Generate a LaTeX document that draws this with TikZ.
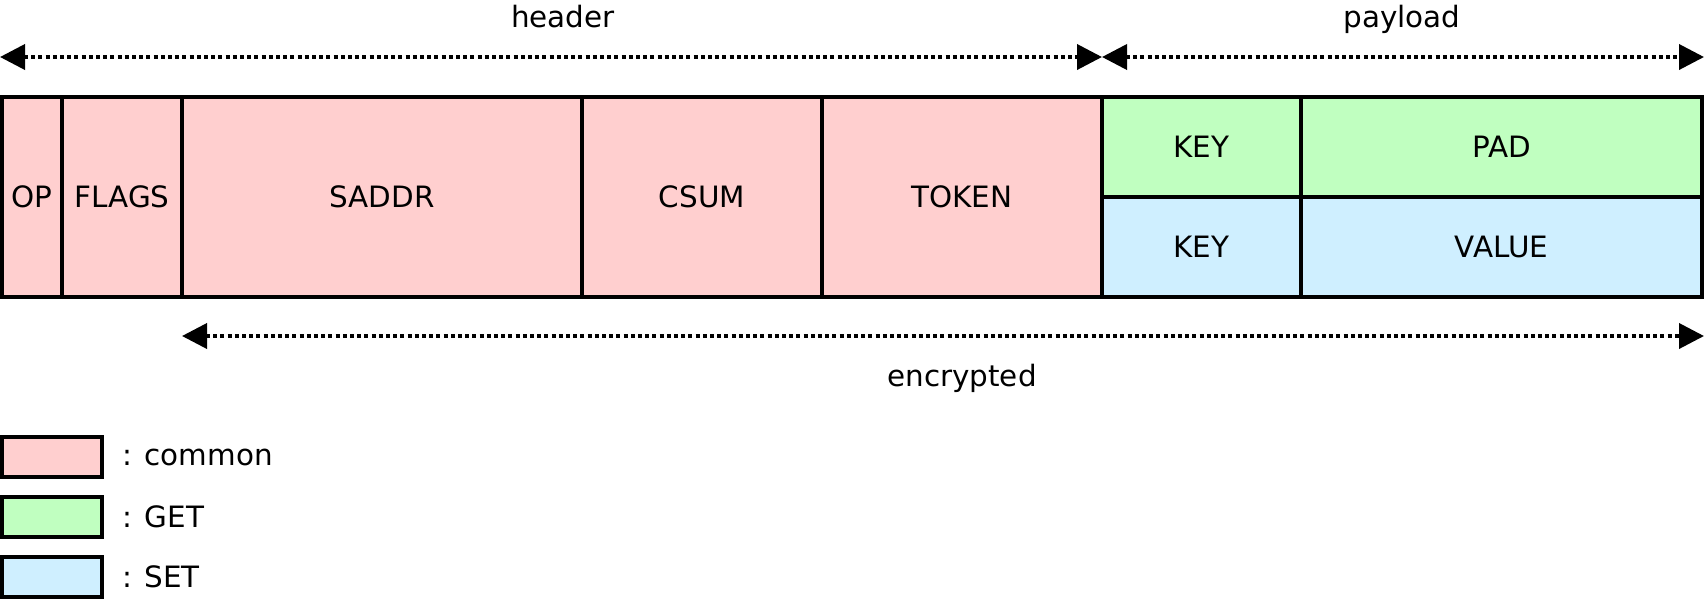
\documentclass[tikz,border=0pt]{standalone}
\usepackage{fontspec}
\setmainfont{DejaVu Sans}
\usetikzlibrary{arrows.meta}
\definecolor{commonc}{RGB}{255,207,207}
\definecolor{getc}{RGB}{192,255,192}
\definecolor{setc}{RGB}{207,239,255}
\begin{document}
\begin{tikzpicture}[x=0.5pt,y=-0.5pt,
  font=\fontsize{14.7}{17}\selectfont,
  cell/.style={draw, line width=1.8pt, anchor=north west, inner sep=0pt, outer sep=0pt,
    minimum height=100pt},
  halfcell/.style={cell, minimum height=50pt},
  span/.style={line width=1.9pt, dash pattern=on 2pt off 1.6pt,
    {Triangle[length=12.5pt,width=12.5pt]}-{Triangle[length=12.5pt,width=12.5pt]}},
  label/.style={anchor=base, inner sep=0pt},
  legbox/.style={draw, line width=1.8pt, anchor=north west, inner sep=0pt, outer sep=0pt,
    minimum width=50pt, minimum height=20pt},
  legtext/.style={anchor=west, inner sep=0pt}]
\useasboundingbox (0,0) rectangle (1706,601);
% cells
\node[cell, fill=commonc, minimum width=30pt] (op) at (2,97) {OP};
\node[cell, fill=commonc, minimum width=60pt] (flags) at (op.north east) {FLAGS};
\node[cell, fill=commonc, minimum width=200pt] (saddr) at (flags.north east) {SADDR};
\node[cell, fill=commonc, minimum width=120pt] (csum) at (saddr.north east) {CSUM};
\node[cell, fill=commonc, minimum width=140pt] (token) at (csum.north east) {TOKEN};
\node[halfcell, fill=getc, minimum width=99.5pt] (gkey) at (token.north east) {KEY};
\node[halfcell, fill=getc, minimum width=200.5pt] (pad) at (gkey.north east) {PAD};
\node[halfcell, fill=setc, minimum width=99.5pt] (skey) at (gkey.south west) {KEY};
\node[halfcell, fill=setc, minimum width=200.5pt] (value) at (skey.north east) {VALUE};
% spans
\coordinate (hl) at (0,57);
\coordinate (hr) at (token.north east |- hl);
\coordinate (pr) at (1704,57);
\coordinate (el) at (saddr.south west |- 0,336);
\coordinate (er) at (1704,336);
\draw[span] (hl) -- (hr);
\draw[span] (hr) -- (pr);
\draw[span] (el) -- (er);
\node[label] (hdr) at (563,27) {header};
\node[label] (pay) at (1402,27) {payload};
\node[label] (enc) at (962,386) {encrypted};
% legend
\node[legbox, fill=commonc] (lc) at (2,437) {};
\node[legbox, fill=getc] (lg) at (2,497) {};
\node[legbox, fill=setc] (ls) at (2,557) {};
\node[legtext] (tc) at ([xshift=10pt]lc.east) {: common};
\node[legtext] (tg) at ([xshift=10pt]lg.east) {: GET};
\node[legtext] (ts) at ([xshift=10pt]ls.east) {: SET};
\end{tikzpicture}
\end{document}
